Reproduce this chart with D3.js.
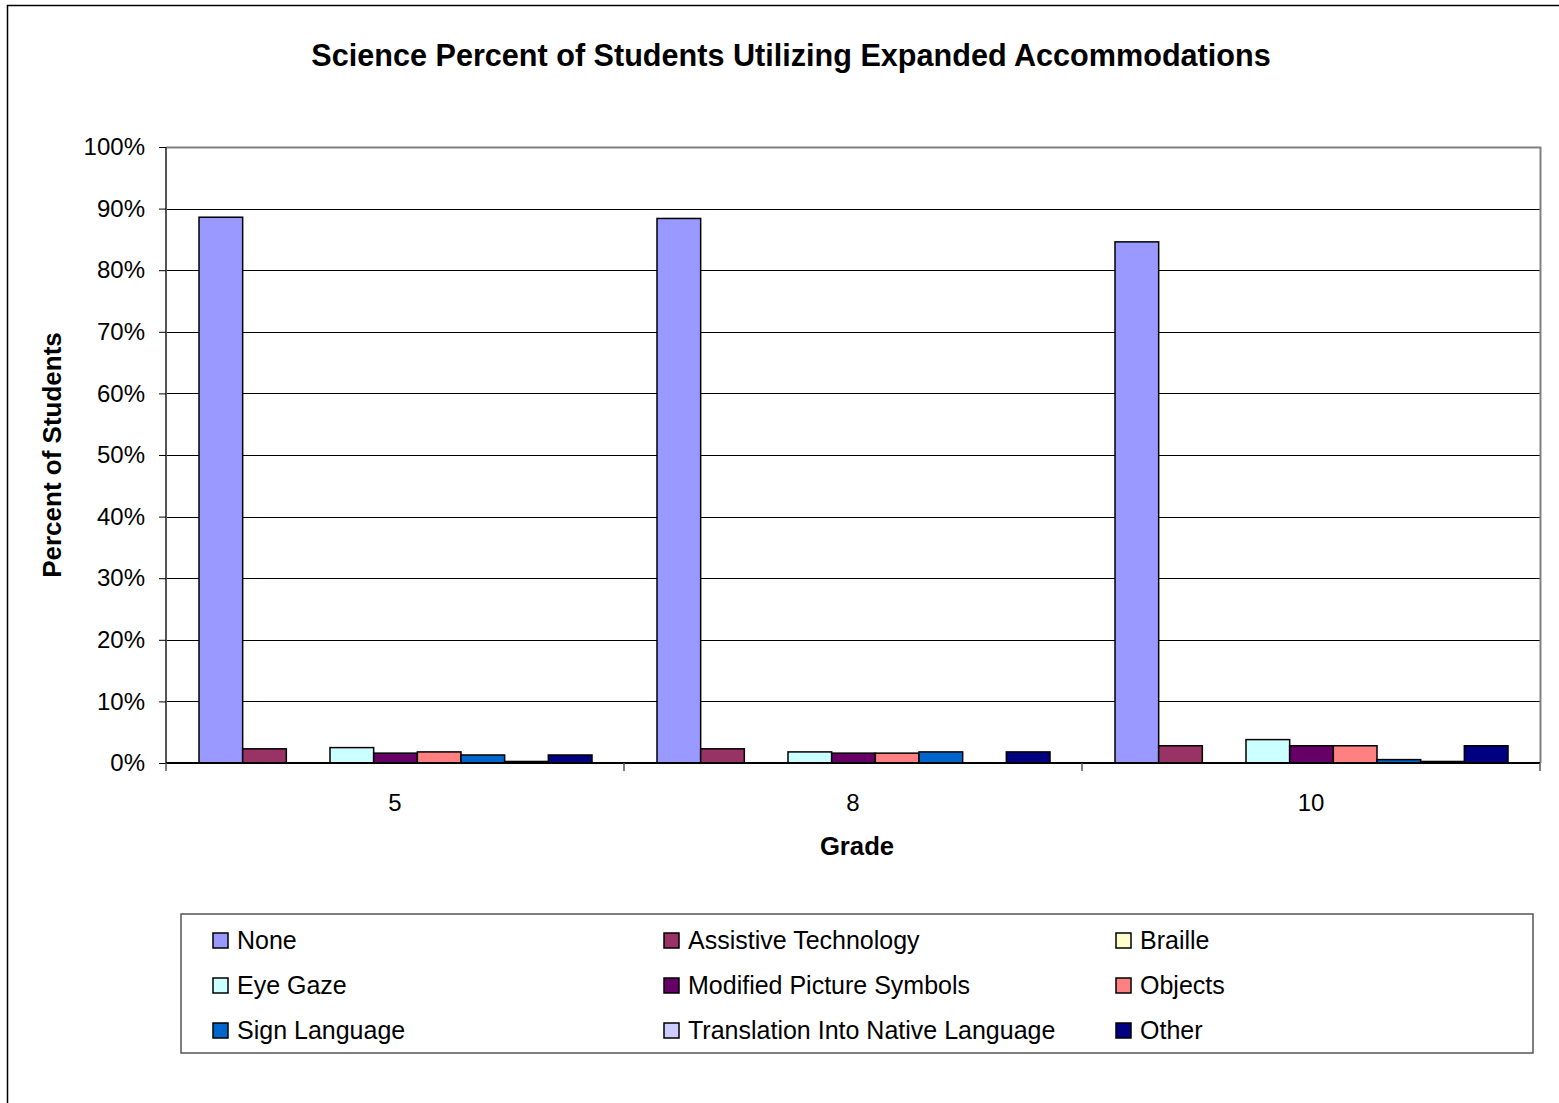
<!DOCTYPE html>
<html><head><meta charset="utf-8">
<script src="https://cdn.jsdelivr.net/npm/d3@7"></script>
<style>body{margin:0;background:#fff}svg{display:block;font-family:"Liberation Sans",Arial,sans-serif}</style>
</head><body><svg id="c" width="1559" height="1103"></svg>
<script>
const categories = ["5", "8", "10"];
const seriesNames = ["None","Assistive Technology","Braille","Eye Gaze","Modified Picture Symbols","Objects","Sign Language","Translation Into Native Language","Other"];
const seriesColors = ["#9999FF","#993366","#FFFFCC","#CCFFFF","#660066","#FF8080","#0066CC","#CCCCFF","#000080"];
const none        = [88.6, 88.4, 84.6];
const assistive   = [2.3, 2.3, 2.8];
const braille     = [0, 0, 0];
const eyeGaze     = [2.5, 1.8, 3.8];
const modified    = [1.6, 1.6, 2.8];
const objects     = [1.8, 1.6, 2.8];
const signLang    = [1.3, 1.8, 0.55];
const translation = [0.25, 0, 0.25];
const other       = [1.3, 1.8, 2.8];
const yTicks = [0,10,20,30,40,50,60,70,80,90,100];
const seriesValues = [none, assistive, braille, eyeGaze, modified, objects, signLang, translation, other];

const svg = d3.select("#c");
const L = 166, R = 1540, T = 147, B = 763;

// outer border
svg.append("rect").attr("x",7.5).attr("y",5.5).attr("width",1600).attr("height",1200)
  .attr("fill","none").attr("stroke","#000").attr("stroke-width",1.5);

svg.append("text").attr("x",791).attr("y",66).attr("text-anchor","middle")
  .attr("font-size",30.6).attr("font-weight","bold").text("Science Percent of Students Utilizing Expanded Accommodations");

const y = d3.scaleLinear().domain([0,100]).range([B,T]);
const x0 = d3.scaleBand().domain(categories).range([L,R]).paddingInner(0).paddingOuter(0);
const x1 = d3.scaleBand().domain(d3.range(seriesNames.length)).range([33, x0.bandwidth()-32]).padding(0);

// gridlines
svg.append("g").selectAll("line").data(yTicks.filter(t=>t>0 && t<100)).join("line")
  .attr("x1",L).attr("x2",R).attr("y1",d=>Math.round(y(d))+0.5).attr("y2",d=>Math.round(y(d))+0.5)
  .attr("stroke","#000").attr("stroke-width",1);
// plot border top/right
svg.append("path").attr("d",`M${L},${y(100)+0.5}H${R+0.5}V${B}`).attr("fill","none").attr("stroke","#808080").attr("stroke-width",2);

// bars
const g = svg.append("g");
categories.forEach((c,ci)=>{
  seriesValues.forEach((vals,si)=>{
    const v = vals[ci];
    if (v <= 0) return;
    g.append("rect")
      .attr("x", x0(c)+x1(si)).attr("width", x1.bandwidth())
      .attr("y", y(v)).attr("height", Math.max(0, y(0)-y(v)))
      .attr("fill", seriesColors[si]).attr("stroke","#000").attr("stroke-width",1.5);
  });
});

// y axis
const yAxis = svg.append("g").attr("transform",`translate(${L},0)`)
  .call(d3.axisLeft(y).tickValues(yTicks).tickFormat(d=>d+"%").tickSize(7).tickPadding(14));
yAxis.select(".domain").attr("stroke","#555").attr("stroke-width",2).attr("d",`M0,${T}V${B}`);
yAxis.selectAll(".tick line").attr("stroke","#000");
yAxis.selectAll("text").attr("font-size",24).attr("font-family","Liberation Sans, Arial, sans-serif").attr("fill","#000");

// x axis
const xAxis = svg.append("g").attr("transform",`translate(0,${B})`)
  .call(d3.axisBottom(x0).tickSize(0).tickPadding(31));
xAxis.select(".domain").attr("stroke","#000").attr("stroke-width",2).attr("d",`M${L},0H${R}`);
xAxis.selectAll("text").attr("font-size",24).attr("font-family","Liberation Sans, Arial, sans-serif").attr("fill","#000");
const sep = categories.map(c=>x0(c)).concat([R]);
svg.append("g").selectAll("line").data(sep).join("line")
  .attr("x1",d=>d).attr("x2",d=>d).attr("y1",B).attr("y2",B+8).attr("stroke","#555").attr("stroke-width",1.5);

svg.append("text").attr("x",857).attr("y",855).attr("text-anchor","middle")
  .attr("font-size",25.7).attr("font-weight","bold").text("Grade");
svg.append("text").attr("transform","translate(61,455) rotate(-90)").attr("text-anchor","middle")
  .attr("font-size",26).attr("font-weight","bold").text("Percent of Students");

// legend
svg.append("rect").attr("x",181).attr("y",914).attr("width",1352).attr("height",139)
  .attr("fill","#fff").attr("stroke","#555").attr("stroke-width",1.5);
const colX = [213, 664, 1116], rowY = [940, 985, 1030];
const lg = svg.append("g").selectAll("g").data(seriesNames).join("g")
  .attr("transform",(d,i)=>`translate(${colX[i%3]},${rowY[Math.floor(i/3)]})`);
lg.append("rect").attr("x",0).attr("y",-7).attr("width",15).attr("height",15)
  .attr("fill",(d,i)=>seriesColors[i]).attr("stroke","#000").attr("stroke-width",1.5);
lg.append("text").attr("x",24).attr("y",9).attr("font-size",25).text(d=>d);
</script></body></html>
